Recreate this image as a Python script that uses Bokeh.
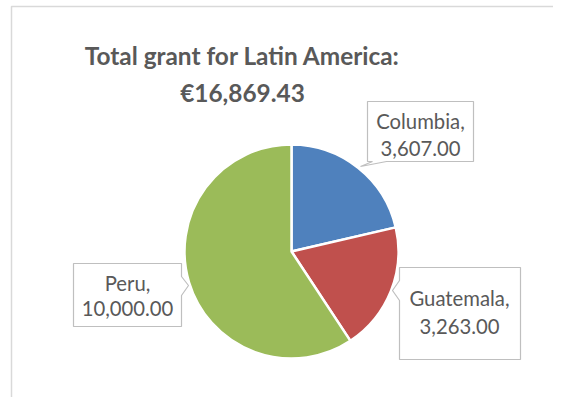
import numpy as np
from bokeh.plotting import figure
from bokeh.models import Range1d, ColumnDataSource
from bokeh.core.properties import value
from bokeh.embed import file_html
from bokeh.resources import INLINE

# ---- data ----
countries = ["Columbia", "Guatemala", "Peru"]
amounts = [3607.00, 3263.00, 10000.00]
colors = ["#4F81BD", "#C0504D", "#9BBB59"]
title_lines = ["Total grant for Latin America:", "€16,869.43"]

W, H = 553, 397
FONT = "Lato"
GREY = "#595959"
TSHIFT = -8  # vertical text correction


def X(px):
    return px


def Y(py):
    return H - py


p = figure(width=W, height=H, output_backend="svg", toolbar_location=None,
           x_range=Range1d(0, W), y_range=Range1d(0, H), min_border=0)
p.axis.visible = False
p.grid.visible = False
p.outline_line_color = None
p.background_fill_color = "white"
p.border_fill_color = "white"

# chart frame (partially visible)
p.line(x=[X(11), X(11), X(600)], y=[Y(420), Y(6), Y(6)],
       line_color="#D9D9D9", line_width=1.5)

# pie
vals = np.array(amounts, dtype=float)
fr = vals / vals.sum()
cum = np.concatenate([[0.0], np.cumsum(fr)])
start = np.pi / 2 - 2 * np.pi * cum[:-1]
end = np.pi / 2 - 2 * np.pi * cum[1:]
cx, cy, r = X(291), Y(251), 107
src = ColumnDataSource(dict(start=start, end=end, color=colors))
p.wedge(x=cx, y=cy, radius=r, start_angle="start", end_angle="end",
        direction="clock", fill_color="color", line_color="white",
        line_width=2.5, source=src)

# title
p.text(x=[X(242), X(242)], y=[Y(63 + TSHIFT), Y(100 + TSHIFT)], text=title_lines,
       text_font=value(FONT), text_font_style="bold", text_font_size="24.4px",
       text_color=GREY, text_align="center", text_baseline="alphabetic")

# callout boxes (layout)
boxes = {
    "Columbia": [(367, 101), (473, 101), (473, 161), (386, 161), (360, 166),
                 (372, 161), (367, 161)],
    "Guatemala": [(399, 267), (520, 267), (520, 359), (399, 359), (399, 300),
                  (392, 290), (399, 280)],
    "Peru": [(73, 263), (181, 263), (181, 276), (188, 285), (181, 295),
             (181, 326), (73, 326)],
}
label_pos = {
    "Columbia": (420, 128, 156),
    "Guatemala": (459, 305, 334),
    "Peru": (127, 290, 316),
}
xs = [[X(a) for a, b in boxes[c]] for c in countries]
ys = [[Y(b) for a, b in boxes[c]] for c in countries]
p.patches(xs=xs, ys=ys, fill_color="white", line_color="#BFBFBF", line_width=1.2)

lx, ly, tx = [], [], []
for c, a in zip(countries, amounts):
    x0, y1, y2 = label_pos[c]
    lx += [X(x0), X(x0)]
    ly += [Y(y1 + TSHIFT), Y(y2 + TSHIFT)]
    tx += [f"{c},", f"{a:,.2f}"]
p.text(x=lx, y=ly, text=tx, text_font=value(FONT), text_font_size="20.3px",
       text_color=GREY, text_align="center", text_baseline="alphabetic")

open("out.html", "w").write(file_html(p, INLINE))
